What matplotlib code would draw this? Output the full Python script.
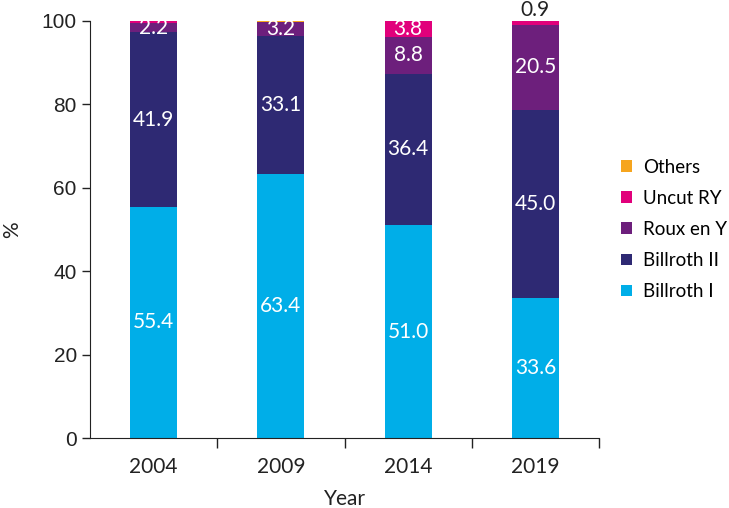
import matplotlib.pyplot as plt
import numpy as np

plt.rcParams['font.family'] = ['Lato', 'DejaVu Sans']

years = ["2004", "2009", "2014", "2019"]
billroth_1 = [55.4, 63.4, 51.0, 33.6]
billroth_2 = [41.9, 33.1, 36.4, 45.0]
roux_en_y  = [2.2, 3.2, 8.8, 20.5]
uncut_ry   = [0.5, 0.0, 3.8, 0.9]
others     = [0.0, 0.3, 0.0, 0.0]

series = [
    ("Billroth I",  billroth_1, "#00AEE8"),
    ("Billroth II", billroth_2, "#2E2973"),
    ("Roux en Y",   roux_en_y,  "#6D1F7C"),
    ("Uncut RY",    uncut_ry,   "#E1007B"),
    ("Others",      others,     "#F6A51E"),
]

# which segments carry an inside label (value text)
inside = {"Billroth I": [1, 1, 1, 1], "Billroth II": [1, 1, 1, 1],
          "Roux en Y": [1, 1, 1, 1], "Uncut RY": [0, 0, 1, 0], "Others": [0, 0, 0, 0]}

fig = plt.figure(figsize=(7.29, 5.08), dpi=100)
ax = fig.add_axes([90/729, 70/508, 509/729, 417/508])

x = np.arange(len(years))
bottom = np.zeros(len(years))
width = 0.37
handles = []
for name, vals, color in series:
    vals = np.array(vals)
    h = ax.bar(x, vals, width, bottom=bottom, color=color, label=name)
    handles.append(h)
    for i, v in enumerate(vals):
        if inside[name][i]:
            ax.text(x[i], bottom[i] + v / 2, f"{v:.1f}", ha="center", va="center",
                    color="white", fontsize=15)
    bottom += vals

# value above the 2019 bar
ax.text(x[3], 102.7, f"{uncut_ry[3]:.1f}", ha="center", va="center",
        color="#222222", fontsize=15, clip_on=False)

ax.set_xlim(-0.5, 3.5)
ax.set_ylim(0, 100)
ax.set_xticks(x)
ax.set_xticklabels(years)
ax.set_xticks(x + 0.5, minor=True)
ax.tick_params(axis="x", which="major", length=0, pad=14, labelsize=15, colors="#222222")
ax.tick_params(axis="x", which="minor", length=7, width=1, color="#222222")
ax.set_yticks([0, 20, 40, 60, 80, 100])
ax.tick_params(axis="y", length=6, width=1, labelsize=15, colors="#222222")
for lbl in ax.get_yticklabels():
    lbl.set_family(['Liberation Sans', 'DejaVu Sans'])
for s in ["top", "right"]:
    ax.spines[s].set_visible(False)
for s in ["left", "bottom"]:
    ax.spines[s].set_color("#222222")

ax.set_xlabel("Year", fontsize=15, labelpad=8, color="#222222")
ax.set_ylabel("%", fontsize=15, labelpad=14, color="#222222")

ax.legend(handles[::-1], [s[0] for s in series][::-1], loc="center left",
          bbox_to_anchor=(1.01, 0.5), frameon=False, fontsize=13.5,
          handlelength=0.6, handleheight=0.6, handletextpad=0.6, labelspacing=0.75)

fig.savefig("out.png", dpi=100)
